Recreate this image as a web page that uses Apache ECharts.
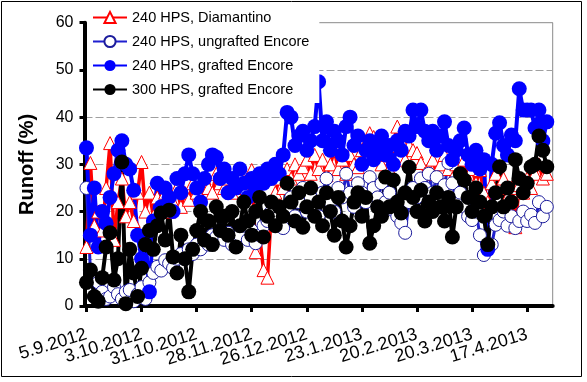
<!DOCTYPE html>
<html>
<head>
<meta charset="utf-8">
<script src="https://cdn.jsdelivr.net/npm/echarts@6/dist/echarts.min.js"></script>
<style>
html,body{margin:0;padding:0;background:#fff;}
#chart{width:587px;height:382px;}
</style>
</head>
<body>
<div id="chart"></div>
<script>
// Measurement dates (every second day)
const dates = [
 '2012-09-05','2012-09-07','2012-09-09','2012-09-11','2012-09-13','2012-09-15','2012-09-17','2012-09-19','2012-09-21','2012-09-23','2012-09-25','2012-09-27','2012-09-29',
 '2012-10-01','2012-10-03','2012-10-05','2012-10-07','2012-10-09','2012-10-11','2012-10-13','2012-10-15','2012-10-17','2012-10-19','2012-10-21','2012-10-23','2012-10-25','2012-10-27','2012-10-29','2012-10-31',
 '2012-11-02','2012-11-04','2012-11-06','2012-11-08','2012-11-10','2012-11-12','2012-11-14','2012-11-16','2012-11-18','2012-11-20','2012-11-22','2012-11-24','2012-11-26','2012-11-28','2012-11-30',
 '2012-12-02','2012-12-04','2012-12-06','2012-12-08','2012-12-10','2012-12-12','2012-12-14','2012-12-16','2012-12-18','2012-12-20','2012-12-22','2012-12-24','2012-12-26','2012-12-28','2012-12-30',
 '2013-01-01','2013-01-03','2013-01-05','2013-01-07','2013-01-09','2013-01-11','2013-01-13','2013-01-15','2013-01-17','2013-01-19','2013-01-21','2013-01-23','2013-01-25','2013-01-27','2013-01-29','2013-01-31',
 '2013-02-02','2013-02-04','2013-02-06','2013-02-08','2013-02-10','2013-02-12','2013-02-14','2013-02-16','2013-02-18','2013-02-20','2013-02-22','2013-02-24','2013-02-26','2013-02-28',
 '2013-03-02','2013-03-04','2013-03-06','2013-03-08','2013-03-10','2013-03-12','2013-03-14','2013-03-16','2013-03-18','2013-03-20','2013-03-22','2013-03-24','2013-03-26','2013-03-28','2013-03-30',
 '2013-04-01','2013-04-03','2013-04-05','2013-04-07','2013-04-09','2013-04-11','2013-04-13','2013-04-15','2013-04-17','2013-04-19','2013-04-21','2013-04-23','2013-04-25','2013-04-27'
];

const seriesNames = ['240 HPS, Diamantino','240 HPS, ungrafted Encore','240 HPS, grafted Encore','300 HPS, grafted Encore'];

const diamantino = [
 12.5,30.3,17,20,16,25,34.5,14,22,27,19,22,18,
 24,30.5,20,24,19,23,21,24,20,22,25,21,24,22.5,26,24,
 23,27,25,24,28,26,25,27,24,26,28,25,27,28.8,11.4,
 15,7.6,6,20,24,27,25,29,27,30,28,29.4,31,28,32,
 29,31,27.7,30,33,29,31,28,32,30,29.4,33,34.5,36.6,35.8,33,
 30,32,29,34,38,35,31,34,33,32.4,30.3,28,29.2,31,
 28,30,32,29,27,30,28,31,27,29,26,28.8,24,22,26,
 28,25,27,23,25,16.7,25.6,24,27,25,28,30,27,28
];

const ungrafted = [
 25,7.6,2,5,3,1.5,2,4,2.5,1.5,3,3.4,1,
 2.5,4,1.5,5,7,8.3,7.5,9.7,9,8,10,11,10,12,11,13,
 12,14,13,15,14.6,16,14,15.5,13,12.5,15,17,14,16,13.3,
 15,17,18,20,17,19,16.5,21,23,19,22,25,20,23,21,
 19,24,27,22,20,25,23,28,24,21,26,24,22,27.3,25,23,
 26,22,24,20.3,19,17.6,15.5,22,25,23,27,25,28,24,
 27.3,23,25.6,30.3,26,22,24,21,19,18.2,20,15,10.8,12.5,13,
 17.2,18.2,20,17,19,16.5,18,20,18,19.3,17.6,22,19,21
];

const grafted240 = [
 33.5,15,25,12.5,20,17.5,23,28,33,35,30,29,24.5,
 15,10,14,3,18,26,21,25,23,20,27,24,28,32,28,25,
 22,27,30,32,31.5,27,29,24,27,25,29,26,23,27,25,
 28,26,29,27,30,28,32,41,40,34,36,37,33,35,38,
 47.5,35,39,33,37,35,32,38,40,34,36,30,33,35,31,33.7,
 36,32,34,30,35,33,37,36,41.5,38,41.5,37,35,37,
 33,36,39,34,31,33,35,37.7,32,30,33,29,31,12,30,
 36.6,38.8,34,32,36.2,35,46,41.5,41.5,41.5,37.7,41.5,35,39
];

const grafted300 = [
 5,7.6,2,1,6,12.5,15.5,5.5,10,30.5,0.5,12,7,
 2,8,13,16,12,17,19.7,14,20.3,10.4,7,15,10,3,12,16,
 20,14,18,13,21,16,19,15,20,12.5,17,22,18,15,20,
 23,14.6,19,22,17,21,19,26,22,18,24,16.7,21,25,19,
 22,17,24,20,15,23,18,12.5,17,22,24,19,23,13.3,17,21,
 19,27.3,21,26.7,22,19.7,24,29.4,23,20,24.5,18,22,20,
 24,21,18,23,14.6,21,28,26.7,23,20,25,22,19,13,21,
 24,29.5,21,25,22,31,27,24,26,29.5,30,36,33,29.5
];

const tickLabels = ['5.9.2012','3.10.2012','31.10.2012','28.11.2012','26.12.2012','23.1.2013','20.2.2013','20.3.2013','17.4.2013'];
const xRange = ['4.9.2012','30.4.2013'];
const yTicks = [0,10,20,30,40,50,60];

function parseDMY(s){const p=s.split('.');return new Date(+p[2],+p[1]-1,+p[0]).getTime();}
function parseISO(s){const p=s.split('-');return new Date(+p[0],+p[1]-1,+p[2]).getTime();}
const xMin = parseDMY(xRange[0]), xMax = parseDMY(xRange[1]);
const tickVals = tickLabels.map(parseDMY);
// axis ends are added as blank placeholders (hidden through showMin/MaxLabel:false)
const axisVals = [xMin].concat(tickVals, [xMax]);
function fmt(v){
  if (v === xMin || v === xMax) return '';
  const d=new Date(v);return d.getDate()+'.'+(d.getMonth()+1)+'.'+d.getFullYear();
}
const pair = arr => dates.map((d,i)=>[parseISO(d), arr[i]]);

const FONT = 'Liberation Sans, Arial, sans-serif';
const chart = echarts.init(document.getElementById('chart'), null, {renderer:'canvas'});
chart.setOption({
  animation:false,
  backgroundColor:'#fff',
  textStyle:{fontFamily:FONT},
  graphic:[{type:'rect', silent:true, z:-10, shape:{x:1.5,y:1.5,width:580,height:375}, style:{fill:'none', stroke:'#000', lineWidth:1}}],
  legend:{
    orient:'vertical', left:87, top:5,
    backgroundColor:'#fff', padding:[5,10,6,5],
    itemWidth:34, itemHeight:14, itemGap:9,
    textStyle:{fontSize:14.5, color:'#000', fontFamily:FONT, lineHeight:14},
    data:seriesNames
  },
  grid:{left:84.5, right:34.3, top:22.7, bottom:76, show:true, borderColor:'#8a8a8a', borderWidth:1},
  xAxis:{
    type:'value', min:xMin, max:xMax,
    axisLine:{show:true, onZero:false, lineStyle:{color:'#000', width:4}},
    axisTick:{show:true, customValues:axisVals, length:6, lineStyle:{color:'#000', width:3}},
    axisLabel:{customValues:axisVals, formatter:fmt, rotate:17, margin:28, fontSize:18, color:'#000', fontFamily:FONT,
               showMinLabel:false, showMaxLabel:false, hideOverlap:false},
    splitLine:{show:false}
  },
  yAxis:{
    type:'value', min:yTicks[0], max:yTicks[yTicks.length-1], interval:10,
    name:'Runoff (%)', nameLocation:'middle', nameGap:47,
    nameTextStyle:{fontSize:20, fontWeight:'bold', color:'#000', fontFamily:FONT},
    axisLine:{show:true, lineStyle:{color:'#000', width:4}},
    axisTick:{show:true, length:5, lineStyle:{color:'#000', width:3}},
    axisLabel:{fontSize:16, color:'#000', margin:11, fontFamily:FONT},
    splitLine:{show:true, lineStyle:{color:'#a0a0a0', width:1, type:[8,3]}}
  },
  series:[
    {name:seriesNames[0], type:'line', data:pair(diamantino), symbol:'triangle', symbolSize:13,
     itemStyle:{color:'#fff', borderColor:'#ff0000', borderWidth:1},
     lineStyle:{color:'#ff0000', width:3.5}},
    {name:seriesNames[1], type:'line', data:pair(ungrafted), symbol:'circle', symbolSize:13,
     itemStyle:{color:'#fff', borderColor:'#1c1c9c', borderWidth:1},
     lineStyle:{color:'#1f1fcf', width:3}},
    {name:seriesNames[2], type:'line', data:pair(grafted240), symbol:'circle', symbolSize:15,
     itemStyle:{color:'#0000ff'},
     lineStyle:{color:'#0000ff', width:4}},
    {name:seriesNames[3], type:'line', data:pair(grafted300), symbol:'circle', symbolSize:15,
     itemStyle:{color:'#000'},
     lineStyle:{color:'#000', width:4}}
  ]
});
</script>
</body>
</html>
